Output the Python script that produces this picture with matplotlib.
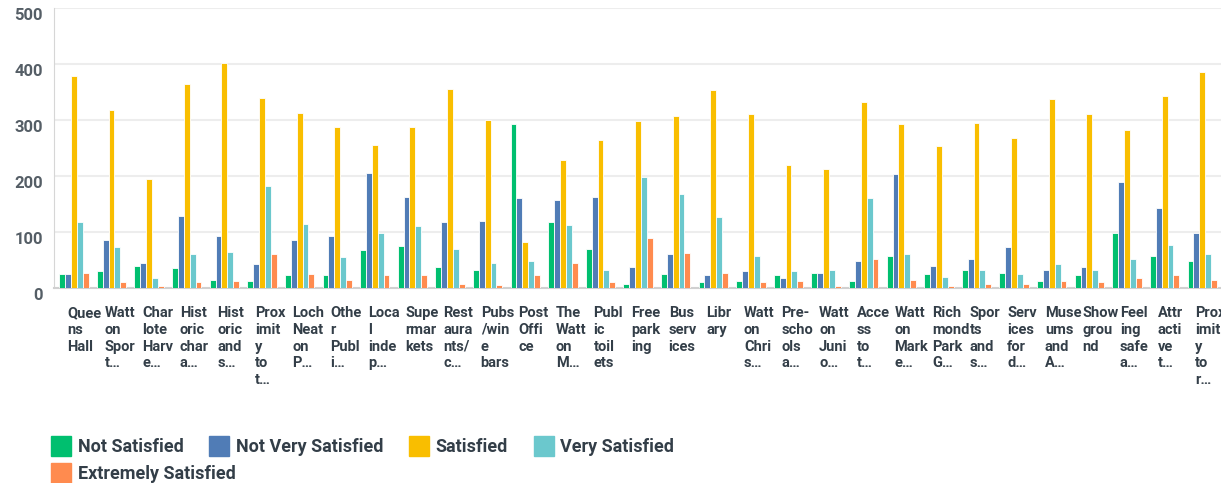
import numpy as np
import matplotlib.pyplot as plt
import matplotlib.transforms as mtransforms
from matplotlib.lines import Line2D

plt.rcParams['font.family'] = ['Roboto', 'DejaVu Sans']

# categories, as shown (wrapped and truncated)
labels = [
    "Quee\nns\nHall", "Watt\non\nSpor\nt…", "Char\nlote\nHarv\ne…", "Hist\noric\nchar\na…",
    "Hist\noric\nand\ns…", "Prox\nimit\ny\nto\nt…", "Loch\nNeat\non\nP…", "Othe\nr\nPubl\ni…",
    "Loca\nl\ninde\np…", "Supe\nrmar\nkets", "Rest\naura\nnts/\nc…", "Pubs\n/win\ne\nbars",
    "Post\nOffi\nce", "The\nWatt\non\nM…", "Publ\nic\ntoil\nets", "Free\npark\ning",
    "Bus\nserv\nices", "Libr\nary", "Watt\non\nChri\ns…", "Pre-\nscho\nols\na…",
    "Watt\non\nJuni\no…", "Acce\nss\nto\nt…", "Watt\non\nMark\ne…", "Rich\nmond\nPark\nG…",
    "Spor\nts\nand\ns…", "Serv\nices\nfor\nd…", "Muse\nums\nand\nA…", "Show\ngrou\nnd",
    "Feel\ning\nsafe\na…", "Attr\nacti\nve\nt…", "Prox\nimit\ny\nto\nr…",
]

not_satisfied = [25, 30, 40, 35, 15, 12, 23, 23, 68, 75, 38, 33, 293, 118, 70, 8,
                 25, 10, 12, 23, 27, 12, 58, 25, 33, 27, 12, 23, 98, 58, 48]
not_very_satisfied = [25, 86, 45, 128, 93, 43, 86, 93, 205, 162, 118, 120, 160, 158, 162, 38,
                      60, 23, 30, 18, 27, 48, 203, 40, 52, 73, 33, 38, 190, 143, 98]
satisfied = [378, 318, 195, 365, 401, 340, 313, 288, 255, 288, 355, 300, 83, 228, 265, 298,
             308, 353, 310, 220, 212, 333, 293, 253, 295, 268, 338, 310, 283, 343, 386]
very_satisfied = [118, 73, 18, 60, 65, 183, 115, 55, 98, 110, 70, 45, 48, 113, 33, 198,
                  168, 127, 58, 30, 33, 160, 60, 20, 33, 25, 43, 33, 52, 77, 60]
extremely_satisfied = [27, 10, 3, 10, 12, 60, 25, 15, 23, 23, 7, 5, 23, 45, 10, 90,
                       63, 27, 10, 12, 3, 52, 15, 3, 8, 8, 12, 10, 18, 23, 15]

series_names = ["Not Satisfied", "Not Very Satisfied", "Satisfied", "Very Satisfied", "Extremely Satisfied"]
series = [not_satisfied, not_very_satisfied, satisfied, very_satisfied, extremely_satisfied]
colors = ["#00BF6F", "#507CB6", "#F9BE00", "#6BC8CD", "#FF8B4F"]

W, H = 1221, 483
fig = plt.figure(figsize=(W / 100, H / 100), dpi=100)
ax = fig.add_axes([54 / W, 1 - 288 / H, 1 - 54 / W, 280 / H])

x = np.arange(len(labels))
bw = 0.156
for i, (vals, c) in enumerate(zip(series, colors)):
    ax.bar(x + (i - 2) * bw, vals, bw, color=c, edgecolor="white", linewidth=0.6,
           label=series_names[i], zorder=3)

ax.set_xlim(-0.53, len(labels) - 0.5)
ax.set_ylim(0, 500)
ax.set_yticks([0, 100, 200, 300, 400, 500])
ax.yaxis.grid(True, color="#EDEDED", linewidth=1.5, zorder=0)
ax.tick_params(axis="y", length=0, pad=8, labelsize=12, labelcolor="#555E66")
for t in ax.get_yticklabels():
    t.set_fontweight("semibold")
    t.set_transform(t.get_transform() + mtransforms.ScaledTranslation(0, -6 / 100, fig.dpi_scale_trans))

ax.set_xticks(x)
ax.set_xticklabels(labels, ha="left", va="top", fontsize=10.5, color="#333E48",
                   fontweight="semibold", linespacing=1.25)
ax.tick_params(axis="x", length=0, pad=13)
for t in ax.get_xticklabels():
    t.set_transform(t.get_transform() + mtransforms.ScaledTranslation(-7 / 100, 0, fig.dpi_scale_trans))

for s in ["top", "right"]:
    ax.spines[s].set_visible(False)
ax.spines["left"].set_color("#D6D6D6")
ax.spines["bottom"].set_color("#D0D0D0")
ax.spines["bottom"].set_linewidth(1.5)

handles = [Line2D([], [], marker="s", linestyle="", markersize=15, color=c) for c in colors]
leg_kw = dict(loc="upper left", frameon=False, fontsize=13, handlelength=0.9,
              handletextpad=0.45, columnspacing=1.55, borderaxespad=0)
leg1 = fig.legend(handles[:4], series_names[:4], bbox_to_anchor=(46 / W, 1 - 431 / H), ncol=4, **leg_kw)
leg2 = fig.legend(handles[4:], series_names[4:], bbox_to_anchor=(46 / W, 1 - 458 / H), ncol=1, **leg_kw)
for leg in (leg1, leg2):
    for t in leg.get_texts():
        t.set_color("#333E48")
        t.set_fontweight("semibold")

fig.savefig("out.png", dpi=100)
